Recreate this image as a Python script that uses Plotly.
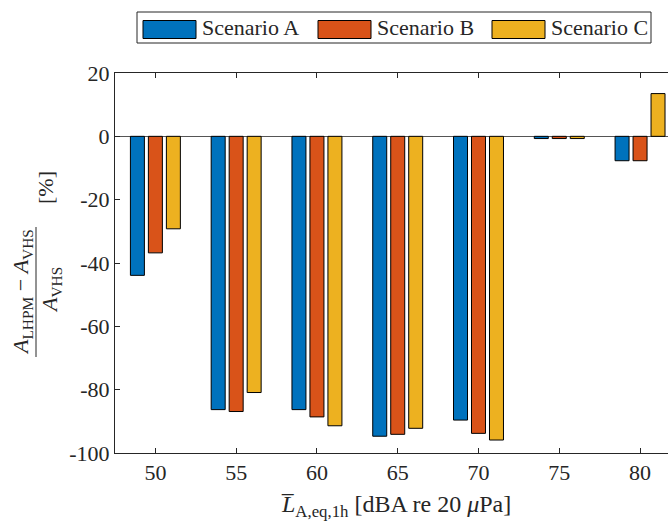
import plotly.graph_objects as go

# Noise level bins (x) and relative change of annoyance per scenario (%)
levels = [50, 55, 60, 65, 70, 75, 80]
scenario_a = [-43.9, -86.3, -86.3, -94.7, -89.6, -0.7, -7.7]
scenario_b = [-36.8, -86.9, -88.6, -94.1, -93.8, -0.7, -7.7]
scenario_c = [-29.2, -80.9, -91.4, -92.2, -95.9, -0.7, 13.5]
series_names = ["Scenario A", "Scenario B", "Scenario C"]
series_colors = ["#0072BD", "#D95319", "#EDB120"]
y_ticks = [-100, -80, -60, -40, -20, 0, 20]
y_tick_labels = ["-100", "-80", "-60", "-40", "-20", "0", "20"]

W, H = 668, 522
L, R, T, B = 115, 0, 73, 69
PW, PH = W - L - R, H - T - B
FONT = "'Liberation Serif', 'Times New Roman', 'DejaVu Serif', serif"
INK = "#262626"


def px(x):
    return (x - L) / PW


def py(y):
    return (H - B - y) / PH


fig = go.Figure()
for name, vals, col in zip(series_names, [scenario_a, scenario_b, scenario_c], series_colors):
    fig.add_trace(go.Bar(x=levels, y=vals, name=name, marker=dict(color=col, line=dict(color="black", width=1)),
                         showlegend=False))

fig.update_layout(
    width=W, height=H, margin=dict(l=L, r=R, t=T, b=B),
    plot_bgcolor="white", paper_bgcolor="white",
    barmode="group", bargap=0.332, bargroupgap=0.222,
    font=dict(family=FONT, color=INK, size=22),
)
fig.update_xaxes(range=[47.5, 81.73], tickvals=levels, ticks="inside", ticklen=5, tickcolor=INK,
                 showline=True, linecolor=INK, linewidth=1, mirror="ticks", showgrid=False, zeroline=False,
                 ticklabelstandoff=0,
                 tickfont=dict(size=22, family=FONT, color=INK))
fig.update_yaxes(range=[-100, 20], tickvals=y_ticks, ticktext=y_tick_labels, ticks="inside", ticklen=5,
                 tickcolor=INK, showline=True, linecolor=INK, linewidth=1, mirror=False, showgrid=False,
                 zeroline=True, zerolinecolor="#555555", zerolinewidth=1,
                 tickfont=dict(size=22, family=FONT, color=INK))

shapes = []
annotations = []

# legend box with swatches
shapes.append(dict(type="rect", xref="paper", yref="paper", x0=px(137), x1=px(651), y0=py(43), y1=py(12),
                   line=dict(color=INK, width=1), fillcolor="white"))
sw_left = [143, 318, 492]
for x0, name, col in zip(sw_left, series_names, series_colors):
    shapes.append(dict(type="rect", xref="paper", yref="paper", x0=px(x0), x1=px(x0 + 53), y0=py(38.5), y1=py(20.5),
                       line=dict(color="black", width=1), fillcolor=col))
    annotations.append(dict(xref="paper", yref="paper", x=px(x0 + 57), y=py(28), xanchor="left", yanchor="middle",
                            text=name, showarrow=False, font=dict(size=22, family=FONT, color=INK)))

# x axis label
annotations.append(dict(xref="paper", yref="paper", x=px(396), y=py(506), xanchor="center", yanchor="middle",
                        text="<i>L\u0305</i><sub>A,eq,1h</sub> [dBA re 20 <i>\u03bc</i>Pa]", showarrow=False,
                        font=dict(size=24, family=FONT, color=INK)))

# y axis label: fraction drawn as rotated pieces
annotations.append(dict(xref="paper", yref="paper", x=px(22), y=py(292), xanchor="center", yanchor="middle",
                        textangle=-90, showarrow=False,
                        text="<i>A</i><sub>LHPM</sub> \u2212 <i>A</i><sub>VHS</sub>",
                        font=dict(size=22, family=FONT, color=INK)))
shapes.append(dict(type="line", xref="paper", yref="paper", x0=px(36), x1=px(36), y0=py(227), y1=py(357),
                   line=dict(color=INK, width=1)))
annotations.append(dict(xref="paper", yref="paper", x=px(51), y=py(290), xanchor="center", yanchor="middle",
                        textangle=-90, showarrow=False, text="<i>A</i><sub>VHS</sub>",
                        font=dict(size=22, family=FONT, color=INK)))
annotations.append(dict(xref="paper", yref="paper", x=px(45), y=py(188), xanchor="center", yanchor="middle",
                        textangle=-90, showarrow=False, text="[%]",
                        font=dict(size=22, family=FONT, color=INK)))

fig.update_layout(shapes=shapes, annotations=annotations)
fig.write_html("out.html")
